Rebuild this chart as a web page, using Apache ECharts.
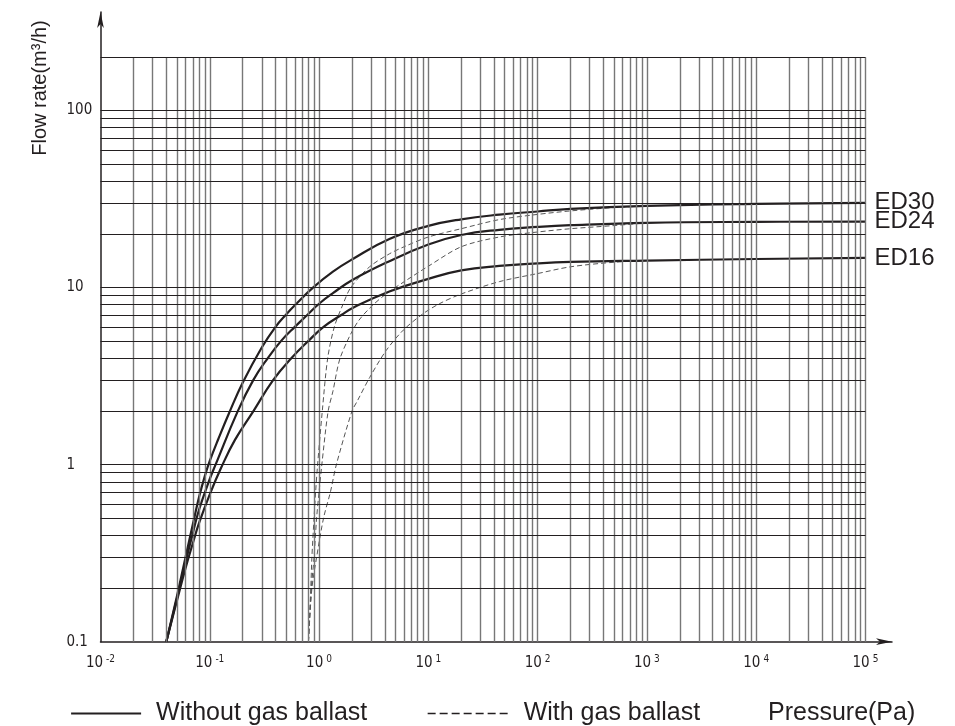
<!DOCTYPE html>
<html><head><meta charset="utf-8">
<script src="https://cdn.jsdelivr.net/npm/echarts@6/dist/echarts.min.js"></script>
<style>html,body{margin:0;padding:0;background:#fff}#c{width:955px;height:726px}</style>
</head><body><div id="c"></div>
<script>
// ---- data (pressure in Pa, flow rate in m3/h) ----
const CURVE_NAMES = ['ED30', 'ED24', 'ED16'];
const SOLID_NAME = 'Without gas ballast';
const DASHED_NAME = 'With gas ballast';

const P_ED30 = [0.04, 0.05, 0.06, 0.07, 0.08, 0.09, 0.1, 0.12, 0.15, 0.2, 0.3, 0.4, 0.5, 0.62, 0.88, 1.34, 2.0, 4.4, 10, 20, 44.6, 100, 200, 1000, 10000, 100000];
const Q_ED30 = [0.1, 0.18, 0.3, 0.46, 0.66, 0.86, 1.05, 1.4, 1.95, 2.9, 4.6, 6.0, 7.05, 8.1, 10, 12.3, 14.4, 18.8, 22.3, 24.3, 25.8, 26.9, 27.8, 28.9, 29.7, 30.1];

const P_ED24 = [0.04, 0.05, 0.06, 0.07, 0.08, 0.1, 0.113, 0.18, 0.25, 0.34, 0.45, 0.6, 0.78, 1.0, 1.34, 2.0, 4.3, 10, 20, 44.6, 100, 200, 1000, 10000, 100000];
const Q_ED24 = [0.1, 0.175, 0.28, 0.41, 0.56, 0.83, 1.0, 2.0, 3.0, 4.0, 5.0, 6.0, 7.0, 8.1, 9.3, 11.0, 14.0, 17.5, 19.8, 21.2, 22.0, 22.5, 23.2, 23.5, 23.6];

const P_ED16 = [0.04, 0.05, 0.06, 0.07, 0.08, 0.1, 0.127, 0.17, 0.25, 0.38, 0.56, 0.8, 1.1, 1.6, 2.05, 4.4, 10, 20, 44.6, 100, 200, 1000, 10000, 100000];
const Q_ED16 = [0.1, 0.17, 0.26, 0.36, 0.47, 0.68, 0.96, 1.38, 2.0, 3.0, 4.0, 5.0, 6.0, 7.0, 7.7, 9.5, 11.2, 12.5, 13.25, 13.7, 13.95, 14.2, 14.5, 14.7];

const P_ED30_GB = [0.8, 0.84, 0.86, 0.9, 0.93, 0.97, 1.07, 1.2, 1.38, 1.65, 1.95, 2.9, 4.4, 6.0, 10, 20, 44.6, 100, 200, 500, 1000];
const Q_ED30_GB = [0.1, 0.2, 0.3, 0.5, 0.7, 1.0, 2.0, 4.0, 6.0, 8.0, 10, 13.1, 15.5, 17.0, 19.3, 21.5, 24.2, 25.9, 27.1, 28.3, 28.9];

const P_ED24_GB = [0.8, 0.85, 0.9, 0.95, 1.0, 1.06, 1.21, 1.34, 1.54, 1.9, 2.3, 3.0, 4.1, 6.3, 10, 20, 44.6, 100, 200, 500, 1000];
const Q_ED24_GB = [0.1, 0.2, 0.3, 0.5, 0.7, 1.0, 2.0, 2.6, 3.9, 5.3, 6.5, 7.8, 9.2, 11.0, 13.2, 17.0, 19.3, 20.6, 21.5, 22.4, 23.2];

const P_ED16_GB = [0.8, 0.86, 0.95, 1.1, 1.27, 1.44, 2.0, 2.25, 2.9, 4.1, 5.9, 8.9, 12.6, 20, 44.6, 100, 200, 500, 1000];
const Q_ED16_GB = [0.1, 0.2, 0.3, 0.5, 0.7, 1.0, 2.0, 2.3, 3.1, 4.4, 5.75, 7.1, 8.1, 9.2, 10.8, 12.0, 13.1, 13.9, 14.2];

// ticks / grid
const X_TICK_EXPONENTS = [-2, -1, 0, 1, 2, 3, 4, 5];
const Y_TICK_VALUES = [0.1, 1, 10, 100];
const Y_TICK_LABELS = ['0.1', '1', '10', '100'];
const GRID_MANTISSAS = [1, 2, 3, 4, 5, 6, 7, 8, 9];
const X_GRID_DECADES = [-2, -1, 0, 1, 2, 3, 4];
const Y_GRID_DECADES = [-1, 0, 1];
const X_RANGE = [0.01, 100000];
const Y_RANGE = [0.1, 200];
const X_AXIS_END = 175000;
const Y_AXIS_END = 360;

// ---- build ----
const INK = '#231f20';
const NARROW = '"Liberation Sans Narrow", "DejaVu Sans Condensed", "Arial Narrow", sans-serif';
const SANS = '"Liberation Sans", Arial, Helvetica, sans-serif';
const zip = (xs, ys) => xs.map((x, i) => [x, ys[i]]);
const r = v => Number(v.toPrecision(8));

const vLines = [];
X_GRID_DECADES.forEach(k => GRID_MANTISSAS.forEach(m => {
  const v = r(m * Math.pow(10, k));
  if (v <= X_RANGE[0]) return;
  vLines.push([{ coord: [v, Y_RANGE[0]] }, { coord: [v, Y_RANGE[1]] }]);
}));
vLines.push([{ coord: [X_RANGE[1], Y_RANGE[0]] }, { coord: [X_RANGE[1], Y_RANGE[1]] }]);

const hLines = [];
Y_GRID_DECADES.forEach(k => GRID_MANTISSAS.forEach(m => {
  const v = r(m * Math.pow(10, k));
  if (v <= Y_RANGE[0]) return;
  hLines.push([{ coord: [X_RANGE[0], v] }, { coord: [X_RANGE[1], v] }]);
}));
hLines.push([{ coord: [X_RANGE[0], 100] }, { coord: [X_RANGE[1], 100] }]);
hLines.push([{ coord: [X_RANGE[0], Y_RANGE[1]] }, { coord: [X_RANGE[1], Y_RANGE[1]] }]);

const solidSets = [[P_ED30, Q_ED30], [P_ED24, Q_ED24], [P_ED16, Q_ED16]];
const dashedSets = [[P_ED30_GB, Q_ED30_GB], [P_ED24_GB, Q_ED24_GB], [P_ED16_GB, Q_ED16_GB]];

const series = [
  {
    type: 'line', data: [], silent: true, z: 1,
    markLine: {
      silent: true, symbol: ['none', 'none'], animation: false,
      label: { show: false },
      data: vLines, lineStyle: { color: '#777', width: 1.4, type: 'solid' }
    }
  },
  {
    type: 'line', data: [], silent: true, z: 1,
    markLine: {
      silent: true, symbol: ['none', 'none'], animation: false,
      label: { show: false },
      data: hLines, lineStyle: { color: INK, width: 1, type: 'solid' }
    }
  }
];
dashedSets.forEach(([p, q]) => series.push({
  name: DASHED_NAME, type: 'line', data: zip(p, q), symbol: 'none', showSymbol: false,
  smooth: 0.3, z: 2, itemStyle: { color: INK },
  lineStyle: { color: '#555', width: 1, type: [5, 3] }
}));
solidSets.forEach(([p, q], i) => series.push({
  name: SOLID_NAME, type: 'line', data: zip(p, q), symbol: 'none', showSymbol: false,
  smooth: 0.45, z: 3, itemStyle: { color: INK },
  lineStyle: { color: INK, width: 2.2 },
  endLabel: { show: true, formatter: CURVE_NAMES[i], fontSize: 24, fontFamily: SANS, color: INK, distance: 9 }
}));

const chart = echarts.init(document.getElementById('c'), null, { renderer: 'canvas' });
chart.setOption({
  animation: false,
  backgroundColor: '#fff',
  grid: { left: 100.5, right: 63, top: 12, bottom: 84.3, containLabel: false },
  xAxis: {
    type: 'log', logBase: 10, min: X_RANGE[0], max: X_AXIS_END,
    axisLine: { show: true, lineStyle: { color: INK, width: 1.5 }, symbol: ['none', 'arrow'], symbolSize: [5, 16], symbolOffset: [0, 0] },
    axisTick: { show: false },
    splitLine: { show: false },
    minorTick: { show: false }, minorSplitLine: { show: false },
    axisLabel: {
      margin: 13, color: INK, showMaxLabel: true,
      formatter: v => {
        const e = Math.round(Math.log10(v));
        if (Math.abs(Math.log10(v) - e) > 1e-6 || X_TICK_EXPONENTS.indexOf(e) < 0) return '';
        return '{b|10}{s|' + e + '}';
      },
      rich: {
        b: { fontSize: 15, fontFamily: NARROW, color: INK, lineHeight: 16, verticalAlign: 'bottom' },
        s: { fontSize: 10, fontFamily: NARROW, color: INK, lineHeight: 10, padding: [0, 0, 16, 3], verticalAlign: 'top' }
      }
    }
  },
  yAxis: {
    type: 'log', logBase: 10, min: Y_RANGE[0], max: Y_AXIS_END,
    axisLine: { show: true, lineStyle: { color: INK, width: 1.5 }, symbol: ['none', 'arrow'], symbolSize: [5, 16] },
    axisTick: { show: false },
    splitLine: { show: false },
    minorTick: { show: false }, minorSplitLine: { show: false },
    axisLabel: {
      align: 'left', margin: 34, fontSize: 15, fontFamily: NARROW, color: INK,
      formatter: v => {
        const i = Y_TICK_VALUES.findIndex(t => Math.abs(t - v) / t < 1e-6);
        return i < 0 ? '' : Y_TICK_LABELS[i];
      }
    }
  },
  legend: [
    {
      data: [SOLID_NAME], left: 70, top: 701, padding: 0, itemWidth: 70, itemHeight: 14, selectedMode: false,
      itemStyle: { opacity: 0 },
      lineStyle: { width: 2.2, color: INK },
      textStyle: { fontSize: 25, fontFamily: SANS, color: INK, padding: [0, 0, 0, 10] }
    },
    {
      data: [DASHED_NAME], left: 427, top: 701, padding: 0, itemWidth: 83, itemHeight: 14, selectedMode: false,
      itemStyle: { opacity: 0 },
      lineStyle: { width: 1.3, color: INK, type: [8, 4] },
      textStyle: { fontSize: 25, fontFamily: SANS, color: INK, padding: [0, 0, 0, 8] }
    }
  ],
  title: {
    text: 'Pressure(Pa)', left: 768, top: 701, padding: 0,
    textStyle: { fontSize: 25, fontWeight: 'normal', fontFamily: SANS, color: INK }
  },
  graphic: [{
    type: 'text', x: 40, y: 88, rotation: Math.PI / 2, silent: true,
    style: {
      text: 'Flow rate(m³/h)', fill: INK, fontSize: 20, fontFamily: SANS,
      align: 'center', verticalAlign: 'middle', textAlign: 'center', textVerticalAlign: 'middle'
    }
  }],
  series: series
});
</script>
</body></html>
